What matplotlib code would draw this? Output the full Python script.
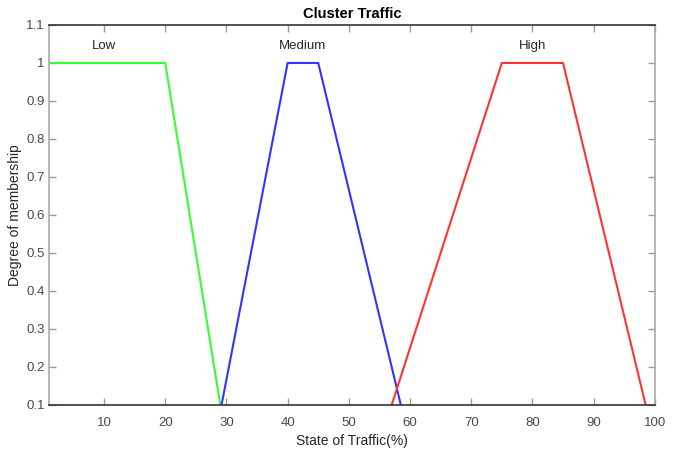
import matplotlib
matplotlib.use("Agg")
import matplotlib.pyplot as plt

# membership function breakpoints (trapezoids)
low_x = [0, 20, 30]
low_y = [1, 1, 0]
med_x = [28, 40, 45, 60]
med_y = [0, 1, 1, 0]
high_x = [55, 75, 85, 100]
high_y = [0, 1, 1, 0]

labels = ["Low", "Medium", "High"]
label_x = [10, 42.5, 80]

xticks = [10, 20, 30, 40, 50, 60, 70, 80, 90, 100]
yticks = [0.1, 0.2, 0.3, 0.4, 0.5, 0.6, 0.7, 0.8, 0.9, 1, 1.1]

plt.rcParams['font.family'] = ['Liberation Sans Narrow', 'Liberation Sans', 'DejaVu Sans']

fig = plt.figure(figsize=(6.8, 4.54), dpi=100)
ax = fig.add_axes([0.072, 0.108, 0.891, 0.837])

ax.plot(low_x, low_y, color='#33ff33', lw=1.5)
ax.plot(med_x, med_y, color='#3333ff', lw=1.5)
ax.plot(high_x, high_y, color='#ff3333', lw=1.5)

for t, x in zip(labels, label_x):
    ax.text(x, 1.045, t, ha='center', va='center', fontsize=9.5, color='#262626')

ax.set_xlim(1, 100)
ax.set_ylim(0.1, 1.1)
ax.set_xticks(xticks)
ax.set_yticks(yticks)
ax.set_yticklabels(['0.1', '0.2', '0.3', '0.4', '0.5', '0.6', '0.7', '0.8', '0.9', '1', '1.1'])
ax.tick_params(direction='in', top=True, right=True, length=5, width=1,
               labelsize=9.5, colors='#4a4a4a')
ax.tick_params(axis='x', pad=9)
ax.tick_params(axis='y', pad=3)
ax.tick_params(axis='both', color='#999999')

for side in ['left', 'right']:
    ax.spines[side].set_color('#aaaaaa')
    ax.spines[side].set_linewidth(1.2)
for side in ['top', 'bottom']:
    ax.spines[side].set_color('#333333')
    ax.spines[side].set_linewidth(1.2)

ax.set_title('Cluster Traffic', fontsize=10.5, fontweight='bold', pad=5)
ax.set_xlabel('State of Traffic(%)', fontsize=10, color='#262626', labelpad=3)
ax.set_ylabel('Degree of membership', fontsize=10, color='#262626',
              family=['Liberation Sans', 'DejaVu Sans'], va='center')
ax.yaxis.set_label_coords(-0.056, 0.5)

fig.savefig('out.png', dpi=100)
